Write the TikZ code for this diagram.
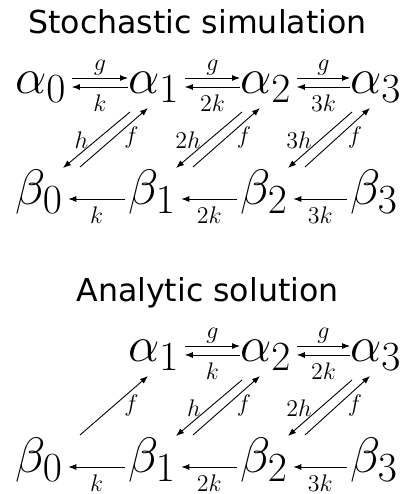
\documentclass[tikz,border=0pt]{standalone}
\usepackage{fontspec}
\newfontfamily\titlefont{DejaVu Sans}
\usetikzlibrary{arrows.meta, positioning}

\begin{document}
\begin{tikzpicture}[x=0.5pt, y=-0.5pt,
  every node/.style={inner sep=0pt},
  species/.style={font=\fontsize{24.88}{30}\selectfont, anchor=base west},
  heading/.style={font=\fontsize{15.8}{19}\selectfont\titlefont, anchor=base},
  rate/.style={font=\fontsize{12.5}{15}\selectfont},
  react/.style={-{Latex[length=4pt, width=3pt]}, line width=0.45pt},
  up/.style={rate, midway, anchor=base, yshift=4pt},
  down/.style={rate, midway, anchor=base, yshift=-12pt},
  lft/.style={rate, midway, anchor=east, xshift=-4pt},
  rgt/.style={rate, midway, anchor=west, xshift=5pt}]
\useasboundingbox (0,0) rectangle (406,494);

% stochastic simulation
\node[heading] (st) at (197.5,33) {Stochastic simulation};
\node[species] (sa0) at (15,93)  {$\alpha_0$};
\node[species] (sa1) at (128,93) {$\alpha_1$};
\node[species] (sa2) at (240,93) {$\alpha_2$};
\node[species] (sa3) at (350,93) {$\alpha_3$};
\node[species] (sb0) at (15,204)  {$\beta_0$};
\node[species] (sb1) at (128,204) {$\beta_1$};
\node[species] (sb2) at (240,204) {$\beta_2$};
\node[species] (sb3) at (350,204) {$\beta_3$};

\draw[react] ([shift={(5,-15)}]sa0.base east) -- ([shift={(0,-15)}]sa1.base west) node[up] {$g$};
\draw[react] ([shift={(0,-6)}]sa1.base west) -- ([shift={(5,-6)}]sa0.base east) node[down] {$k$};
\draw[react] ([shift={(5,-15)}]sa1.base east) -- ([shift={(0,-15)}]sa2.base west) node[up] {$g$};
\draw[react] ([shift={(0,-6)}]sa2.base west) -- ([shift={(5,-6)}]sa1.base east) node[down] {$2k$};
\draw[react] ([shift={(5,-15)}]sa2.base east) -- ([shift={(0,-15)}]sa3.base west) node[up] {$g$};
\draw[react] ([shift={(0,-6)}]sa3.base west) -- ([shift={(5,-6)}]sa2.base east) node[down] {$3k$};

\draw[react] ([shift={(2,19)}]sa1.base west) -- ([shift={(48,-36)}]sb0.base west) node[lft] {$h$};
\draw[react] ([shift={(65,-37)}]sb0.base west) -- ([shift={(20,15)}]sa1.base west) node[rgt] {$f$};
\draw[react] ([shift={(2,19)}]sa2.base west) -- ([shift={(48,-36)}]sb1.base west) node[lft] {$2h$};
\draw[react] ([shift={(65,-37)}]sb1.base west) -- ([shift={(20,15)}]sa2.base west) node[rgt] {$f$};
\draw[react] ([shift={(2,19)}]sa3.base west) -- ([shift={(48,-36)}]sb2.base west) node[lft] {$3h$};
\draw[react] ([shift={(65,-37)}]sb2.base west) -- ([shift={(20,15)}]sa3.base west) node[rgt] {$f$};

\draw[react] ([shift={(-3,-5)}]sb1.base west) -- ([shift={(5,-5)}]sb0.base east) node[down] {$k$};
\draw[react] ([shift={(-3,-5)}]sb2.base west) -- ([shift={(5,-5)}]sb1.base east) node[down] {$2k$};
\draw[react] ([shift={(-3,-5)}]sb3.base west) -- ([shift={(5,-5)}]sb2.base east) node[down] {$3k$};

% analytic solution
\node[heading] (at) at (207.5,301) {Analytic solution};
\node[species] (aa1) at (128,361) {$\alpha_1$};
\node[species] (aa2) at (240,361) {$\alpha_2$};
\node[species] (aa3) at (350,361) {$\alpha_3$};
\node[species] (ab0) at (15,472)  {$\beta_0$};
\node[species] (ab1) at (128,472) {$\beta_1$};
\node[species] (ab2) at (240,472) {$\beta_2$};
\node[species] (ab3) at (350,472) {$\beta_3$};

\draw[react] ([shift={(5,-15)}]aa1.base east) -- ([shift={(0,-15)}]aa2.base west) node[up] {$g$};
\draw[react] ([shift={(0,-6)}]aa2.base west) -- ([shift={(5,-6)}]aa1.base east) node[down] {$k$};
\draw[react] ([shift={(5,-15)}]aa2.base east) -- ([shift={(0,-15)}]aa3.base west) node[up] {$g$};
\draw[react] ([shift={(0,-6)}]aa3.base west) -- ([shift={(5,-6)}]aa2.base east) node[down] {$2k$};

\draw[react] ([shift={(65,-37)}]ab0.base west) -- ([shift={(20,15)}]aa1.base west) node[rgt] {$f$};
\draw[react] ([shift={(2,19)}]aa2.base west) -- ([shift={(48,-36)}]ab1.base west) node[lft] {$h$};
\draw[react] ([shift={(65,-37)}]ab1.base west) -- ([shift={(20,15)}]aa2.base west) node[rgt] {$f$};
\draw[react] ([shift={(2,19)}]aa3.base west) -- ([shift={(48,-36)}]ab2.base west) node[lft] {$2h$};
\draw[react] ([shift={(65,-37)}]ab2.base west) -- ([shift={(20,15)}]aa3.base west) node[rgt] {$f$};

\draw[react] ([shift={(-3,-5)}]ab1.base west) -- ([shift={(5,-5)}]ab0.base east) node[down] {$k$};
\draw[react] ([shift={(-3,-5)}]ab2.base west) -- ([shift={(5,-5)}]ab1.base east) node[down] {$2k$};
\draw[react] ([shift={(-3,-5)}]ab3.base west) -- ([shift={(5,-5)}]ab2.base east) node[down] {$3k$};
\end{tikzpicture}
\end{document}
